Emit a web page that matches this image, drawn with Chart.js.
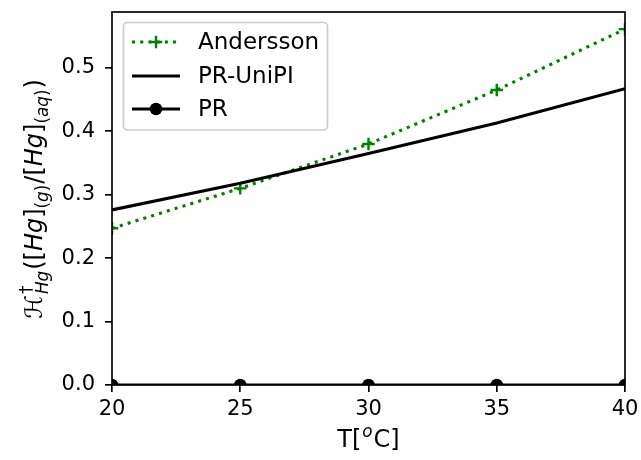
<!DOCTYPE html>
<html>
<head>
<meta charset="utf-8">
<script src="https://cdn.jsdelivr.net/npm/chart.js@4/dist/chart.umd.min.js"></script>
<style>
html,body{margin:0;padding:0;background:#fff;}
canvas{display:block;}
</style>
</head>
<body>
<canvas id="c" width="641" height="460"></canvas>
<script>
// ---- data ----
const temps = [20, 25, 30, 35, 40];
const andersson = [0.247, 0.310, 0.380, 0.465, 0.561];
const prUniPI = [0.276, 0.318, 0.365, 0.413, 0.467];
const prValues = [0, 0, 0, 0, 0];
const xTicks = [20, 25, 30, 35, 40];
const yTicks = [0.0, 0.1, 0.2, 0.3, 0.4, 0.5];
const seriesNames = ['Andersson', 'PR-UniPI', 'PR'];

const FONT = 'DejaVu Sans';
const TICK_PX = 21;
const LEG_PX = 23;
const LABEL_PX = 24;
const LW = 3.1;

const pts = arr => temps.map((t, i) => ({x: t, y: arr[i]}));

function drawRich(ctx, segs, size) {
  let x = 0, items = [], prevStart = 0, prevW = 0;
  for (const s of segs) {
    const fs = s.pos ? size * 0.7 : size;
    ctx.font = (s.it ? 'italic ' : '') + fs + 'px "' + FONT + '"';
    const w = ctx.measureText(s.t).width;
    let sx = x;
    if (s.stack) { sx = prevStart; }
    const dy = s.pos === 'sub' ? size * 0.25 : (s.pos === 'sup' ? -size * 0.42 : 0);
    items.push({t: s.t, font: ctx.font, x: sx, y: dy});
    if (s.stack) { x = Math.max(prevStart + prevW, sx + w) + (s.gap || 0); prevW = Math.max(prevW, w); }
    else { prevStart = sx; prevW = w; x = sx + w + (s.gap || 0); }
  }
  return {width: x, items};
}

const decor = {
  id: 'decor',
  afterDraw(chart) {
    const ctx = chart.ctx, a = chart.chartArea;
    ctx.save();
    ctx.strokeStyle = '#000';
    ctx.lineWidth = 1.67;
    ctx.strokeRect(a.left, a.top, a.right - a.left, a.bottom - a.top);

    // legend
    const lx = 123.5, ly = 22.5, lw = 204, lh = 107.5;
    ctx.beginPath();
    ctx.roundRect(lx, ly, lw, lh, 4);
    ctx.fillStyle = 'rgba(255,255,255,0.8)';
    ctx.fill();
    ctx.strokeStyle = '#cccccc';
    ctx.lineWidth = 1.67;
    ctx.stroke();
    const rows = [42, 76, 109];
    chart.data.datasets.forEach((ds, i) => {
      const y = rows[i];
      ctx.save();
      ctx.strokeStyle = ds.borderColor;
      ctx.lineWidth = ds.borderWidth;
      ctx.setLineDash(ds.borderDash || []);
      ctx.lineCap = 'butt';
      ctx.beginPath();
      ctx.moveTo(132, y);
      ctx.lineTo(180, y);
      ctx.stroke();
      ctx.setLineDash([]);
      if (ds.pointRadius > 0) {
        const cx = 156;
        if (ds.pointStyle === 'cross') {
          ctx.strokeStyle = ds.pointBorderColor;
          ctx.lineWidth = ds.pointBorderWidth;
          ctx.beginPath();
          ctx.moveTo(cx - ds.pointRadius, y); ctx.lineTo(cx + ds.pointRadius, y);
          ctx.moveTo(cx, y - ds.pointRadius); ctx.lineTo(cx, y + ds.pointRadius);
          ctx.stroke();
        } else {
          ctx.fillStyle = ds.pointBackgroundColor;
          ctx.beginPath();
          ctx.arc(cx, y, ds.pointRadius, 0, Math.PI * 2);
          ctx.fill();
        }
      }
      ctx.restore();
      ctx.fillStyle = '#000';
      ctx.font = LEG_PX + 'px "' + FONT + '"';
      ctx.textBaseline = 'middle';
      ctx.textAlign = 'left';
      ctx.fillText(ds.label, 198, y + 1);
    });

    // x axis title
    ctx.textBaseline = 'alphabetic';
    ctx.textAlign = 'left';
    ctx.fillStyle = '#000';
    const xl = drawRich(ctx, [
      {t: 'T[', gap: 1}, {t: 'o', it: true, pos: 'sup', gap: 1}, {t: 'C]'}
    ], LABEL_PX);
    const xs = 368.5 - xl.width / 2;
    xl.items.forEach(it => { ctx.font = it.font; ctx.fillText(it.t, xs + it.x, 447 + it.y); });

    // y axis title
    const yl = drawRich(ctx, [
      {t: '\u210B', gap: 1},
      {t: '\u2020', pos: 'sup'},
      {t: 'Hg', it: true, pos: 'sub', stack: true, gap: 1},
      {t: '('}, {t: '['}, {t: 'Hg', it: true}, {t: ']'},
      {t: '(', pos: 'sub'}, {t: 'g', it: true, pos: 'sub'}, {t: ')', pos: 'sub', gap: 1},
      {t: '/'}, {t: '['}, {t: 'Hg', it: true}, {t: ']'},
      {t: '(', pos: 'sub'}, {t: 'aq', it: true, pos: 'sub'}, {t: ')', pos: 'sub', gap: 1},
      {t: ')'}
    ], LABEL_PX);
    ctx.translate(42, 199);
    ctx.rotate(-Math.PI / 2);
    const ys = -yl.width / 2;
    yl.items.forEach(it => { ctx.font = it.font; ctx.fillText(it.t, ys + it.x, it.y); });
    ctx.restore();
  }
};

new Chart(document.getElementById('c'), {
  type: 'line',
  data: {
    datasets: [
      {
        label: seriesNames[0],
        data: pts(andersson),
        borderColor: '#008000',
        borderWidth: LW,
        borderDash: [3.1, 5.1],
        pointStyle: 'cross',
        pointRadius: 6.25,
        pointBorderColor: '#008000',
        pointBorderWidth: 2.4,
        pointBackgroundColor: '#008000',
        tension: 0,
        clip: 0,
        order: 3
      },
      {
        label: seriesNames[1],
        data: pts(prUniPI),
        borderColor: '#000000',
        borderWidth: LW,
        pointRadius: 0,
        tension: 0,
        clip: 0,
        order: 2
      },
      {
        label: seriesNames[2],
        data: pts(prValues),
        borderColor: '#000000',
        borderWidth: LW,
        pointStyle: 'circle',
        pointRadius: 6.25,
        pointBorderWidth: 0,
        pointBackgroundColor: '#000000',
        pointBorderColor: '#000000',
        tension: 0,
        clip: 0,
        order: 1
      }
    ]
  },
  options: {
    responsive: false,
    animation: false,
    devicePixelRatio: 1,
    layout: {padding: {left: 0, top: 12, right: 16, bottom: 0}},
    plugins: {legend: {display: false}, tooltip: {enabled: false}},
    scales: {
      x: {
        type: 'linear', min: 20, max: 40,
        afterBuildTicks: s => { s.ticks = xTicks.map(v => ({value: v})); },
        afterFit: s => { s.height = 75; s.paddingLeft = 0; s.paddingRight = 0; s.paddingTop = 0; s.paddingBottom = 0; },
        ticks: {color: '#000', font: {family: FONT, size: TICK_PX}, padding: 5, maxRotation: 0, callback: v => String(v)},
        grid: {drawOnChartArea: false, drawTicks: true, tickLength: 7, color: '#000', lineWidth: 1.67},
        border: {display: false}
      },
      y: {
        type: 'linear', min: 0, max: 0.588,
        afterBuildTicks: s => { s.ticks = yTicks.map(v => ({value: v})); },
        afterFit: s => { s.width = 112; s.paddingLeft = 0; s.paddingRight = 0; s.paddingTop = 0; s.paddingBottom = 0; },
        ticks: {color: '#000', font: {family: FONT, size: TICK_PX}, padding: 10, callback: v => v.toFixed(1)},
        grid: {drawOnChartArea: false, drawTicks: true, tickLength: 7, color: '#000', lineWidth: 1.67},
        border: {display: false}
      }
    }
  },
  plugins: [decor]
});
</script>
</body>
</html>
